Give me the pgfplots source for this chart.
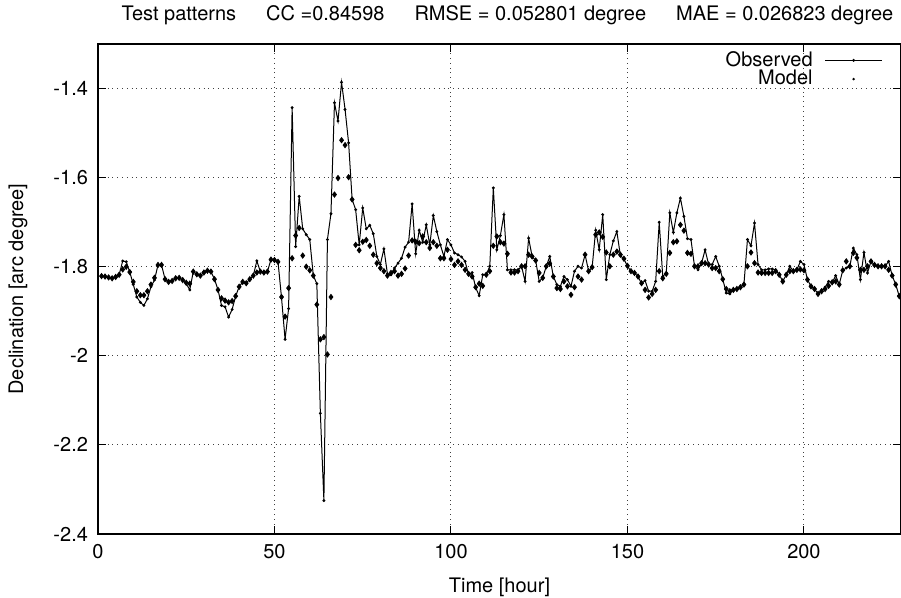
\documentclass[border=0pt]{standalone}
\usepackage{fontspec}
\setmainfont{TeX Gyre Heros}
\usepackage{pgfplots}
\usepackage{pgfplotstable}
\pgfplotsset{compat=1.18}
\pgfplotstableread{
h obs model
1 -1.821 -1.821
2 -1.822 -1.822
3 -1.824 -1.824
4 -1.826 -1.826
5 -1.823 -1.823
6 -1.818 -1.818
7 -1.787 -1.806
8 -1.789 -1.800
9 -1.812 -1.812
10 -1.840 -1.834
11 -1.868 -1.855
12 -1.880 -1.864
13 -1.887 -1.864
14 -1.872 -1.855
15 -1.845 -1.840
16 -1.830 -1.825
17 -1.796 -1.796
18 -1.796 -1.796
19 -1.828 -1.828
20 -1.834 -1.834
21 -1.832 -1.832
22 -1.826 -1.826
23 -1.825 -1.825
24 -1.830 -1.830
25 -1.838 -1.836
26 -1.852 -1.838
27 -1.811 -1.811
28 -1.817 -1.817
29 -1.820 -1.820
30 -1.813 -1.813
31 -1.809 -1.809
32 -1.811 -1.811
33 -1.828 -1.828
34 -1.852 -1.852
35 -1.887 -1.871
36 -1.890 -1.876
37 -1.913 -1.880
38 -1.896 -1.877
39 -1.866 -1.866
40 -1.845 -1.845
41 -1.834 -1.834
42 -1.837 -1.837
43 -1.828 -1.828
44 -1.820 -1.820
45 -1.787 -1.813
46 -1.811 -1.811
47 -1.813 -1.813
48 -1.811 -1.811
49 -1.784 -1.784
50 -1.785 -1.785
51 -1.789 -1.789
52 -1.870 -1.868
53 -1.963 -1.912
54 -1.894 -1.848
55 -1.443 -1.781
56 -1.755 -1.730
57 -1.642 -1.713
58 -1.715 -1.775
59 -1.728 -1.800
60 -1.739 -1.808
61 -1.820 -1.820
62 -1.838 -1.885
63 -2.129 -1.963
64 -2.325 -1.958
65 -1.739 -1.997
66 -1.681 -1.868
67 -1.432 -1.638
68 -1.473 -1.601
69 -1.386 -1.516
70 -1.447 -1.527
71 -1.522 -1.599
72 -1.649 -1.649
73 -1.672 -1.751
74 -1.751 -1.763
75 -1.668 -1.744
76 -1.715 -1.740
77 -1.707 -1.753
78 -1.726 -1.773
79 -1.777 -1.792
80 -1.795 -1.803
81 -1.760 -1.810
82 -1.816 -1.820
83 -1.818 -1.814
84 -1.803 -1.810
85 -1.792 -1.820
86 -1.781 -1.816
87 -1.756 -1.804
88 -1.745 -1.775
89 -1.659 -1.741
90 -1.771 -1.744
91 -1.718 -1.747
92 -1.745 -1.732
93 -1.706 -1.745
94 -1.751 -1.758
95 -1.685 -1.745
96 -1.721 -1.753
97 -1.751 -1.781
98 -1.777 -1.781
99 -1.739 -1.762
100 -1.751 -1.783
101 -1.769 -1.796
102 -1.773 -1.788
103 -1.778 -1.796
104 -1.788 -1.807
105 -1.818 -1.816
106 -1.813 -1.822
107 -1.847 -1.846
108 -1.865 -1.838
109 -1.818 -1.843
110 -1.818 -1.818
111 -1.799 -1.810
112 -1.623 -1.753
113 -1.762 -1.732
114 -1.730 -1.745
115 -1.683 -1.748
116 -1.807 -1.771
117 -1.807 -1.813
118 -1.807 -1.813
119 -1.807 -1.810
120 -1.799 -1.799
121 -1.833 -1.799
122 -1.736 -1.773
123 -1.777 -1.777
124 -1.786 -1.786
125 -1.833 -1.814
126 -1.825 -1.825
127 -1.799 -1.799
128 -1.777 -1.793
129 -1.822 -1.822
130 -1.840 -1.848
131 -1.844 -1.850
132 -1.822 -1.833
133 -1.829 -1.844
134 -1.844 -1.863
135 -1.810 -1.846
136 -1.799 -1.822
137 -1.803 -1.829
138 -1.773 -1.773
139 -1.810 -1.810
140 -1.801 -1.801
141 -1.718 -1.728
142 -1.762 -1.723
143 -1.683 -1.733
144 -1.829 -1.768
145 -1.773 -1.799
146 -1.742 -1.773
147 -1.721 -1.766
148 -1.775 -1.773
149 -1.783 -1.782
150 -1.799 -1.798
151 -1.810 -1.810
152 -1.814 -1.814
153 -1.822 -1.822
154 -1.838 -1.837
155 -1.831 -1.852
156 -1.855 -1.869
157 -1.855 -1.861
158 -1.833 -1.852
159 -1.700 -1.810
160 -1.822 -1.826
161 -1.814 -1.816
162 -1.679 -1.769
163 -1.723 -1.745
164 -1.679 -1.743
165 -1.646 -1.706
166 -1.687 -1.719
167 -1.737 -1.769
168 -1.739 -1.771
169 -1.799 -1.799
170 -1.807 -1.799
171 -1.792 -1.792
172 -1.762 -1.792
173 -1.795 -1.795
174 -1.795 -1.803
175 -1.777 -1.803
176 -1.799 -1.810
177 -1.828 -1.828
178 -1.859 -1.850
179 -1.861 -1.855
180 -1.852 -1.852
181 -1.850 -1.850
182 -1.846 -1.846
183 -1.840 -1.840
184 -1.739 -1.799
185 -1.753 -1.768
186 -1.702 -1.792
187 -1.795 -1.813
188 -1.807 -1.814
189 -1.807 -1.814
190 -1.805 -1.814
191 -1.805 -1.814
192 -1.807 -1.810
193 -1.818 -1.818
194 -1.833 -1.833
195 -1.818 -1.818
196 -1.799 -1.810
197 -1.810 -1.810
198 -1.807 -1.807
199 -1.788 -1.806
200 -1.795 -1.808
201 -1.829 -1.829
202 -1.844 -1.844
203 -1.850 -1.850
204 -1.861 -1.861
205 -1.853 -1.855
206 -1.846 -1.850
207 -1.833 -1.843
208 -1.836 -1.835
209 -1.820 -1.833
210 -1.840 -1.840
211 -1.808 -1.808
212 -1.803 -1.788
213 -1.799 -1.799
214 -1.758 -1.769
215 -1.773 -1.780
216 -1.829 -1.807
217 -1.768 -1.807
218 -1.814 -1.799
219 -1.788 -1.788
220 -1.796 -1.796
221 -1.799 -1.799
222 -1.799 -1.799
223 -1.799 -1.799
224 -1.788 -1.807
225 -1.820 -1.820
226 -1.840 -1.840
227 -1.866 -1.866
228 -1.888 -1.888
}\datatable

\begin{document}
\fontsize{10}{12}\selectfont
\begin{tikzpicture}
\path[use as bounding box] (-49pt,-32pt) rectangle (401.5pt,267pt);
\begin{axis}[
  scale only axis, width=401.5pt, height=245pt,
  xmin=0, xmax=227.5, ymin=-2.4, ymax=-1.3,
  xtick={0,50,100,150,200}, xticklabels={0,50,100,150,200},
  ytick={-2.4,-2.2,-2,-1.8,-1.6,-1.4},
  yticklabels={-2.4,-2.2,-2,-1.8,-1.6,-1.4},
  tick align=inside, major tick length=4pt,
  tick style={black, line width=0.5pt},
  grid=major, grid style={dotted, black!75, line width=0.5pt},
  axis line style={black, line width=0.6pt},
  tick label style={font=\fontsize{10}{12}\selectfont},
  xticklabel style={yshift=-1.5pt},
  yticklabel style={xshift=-1.5pt},
  xlabel={Time [hour]}, ylabel={Declination [arc degree]},
  label style={font=\fontsize{10}{12}\selectfont},
  xlabel style={at={(axis description cs:0.5,-0.108)}, anchor=center},
  ylabel style={at={(axis description cs:-0.0996,0.5)}, anchor=center},
  title={Test patterns\hspace{15pt}CC =0.84598\hspace{15pt}RMSE = 0.052801 degree\hspace{15pt}MAE = 0.026823 degree},
  title style={at={(axis description cs:0.51,1.0347)}, anchor=center, font=\fontsize{10}{12}\selectfont},
  legend style={at={(axis description cs:0.985,0.996)}, anchor=north east, draw=none, fill=none,
    font=\fontsize{10}{12}\selectfont, row sep=-0.5pt, column sep=4pt, nodes={inner ysep=0.5pt}},
  legend cell align=right, legend plot pos=right,
  clip=true,
]
\addplot[black, line width=0.5pt, mark=*, mark size=0.45pt,
  legend image code/.code={\draw[black, line width=0.5pt, mark=*, mark size=0.45pt, mark repeat=2, mark phase=2] plot coordinates {(0cm,0cm) (0.5cm,0cm) (1cm,0cm)};}]
  table[x=h,y=obs]{\datatable};
\addlegendentry{Observed}
\addplot[black, only marks, mark=diamond*, mark size=1.3pt,
  legend image code/.code={\path[draw=none] (0cm,0cm) -- (1cm,0cm); \fill[black, draw=none] (0.5cm,0cm) circle (0.7pt);}]
  table[x=h,y=model]{\datatable};
\addlegendentry{Model}
\end{axis}
\end{tikzpicture}
\end{document}
